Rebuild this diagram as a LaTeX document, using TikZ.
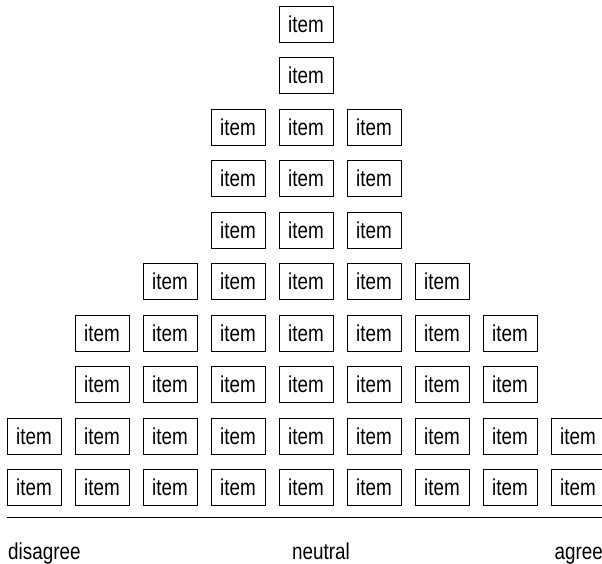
\documentclass[tikz,border=0pt]{standalone}
\usepackage{fontspec}
\setmainfont[FakeStretch=0.82]{Liberation Sans}
\begin{document}
\begin{tikzpicture}[x=1pt,y=-1pt,
  itembox/.style={draw,line width=0.9pt,minimum width=54pt,minimum height=36pt,inner sep=0pt,font=\fontsize{23}{26}\selectfont},
  lbl/.style={inner sep=0pt,font=\fontsize{23}{26}\selectfont}]
\useasboundingbox (0,0) rectangle (602,563);
\foreach \r/\a/\b in {0/4/4,1/4/4,2/3/5,3/3/5,4/3/5,5/2/6,6/1/7,7/1/7,8/0/8,9/0/8}{
  \foreach \c in {\a,...,\b}{
    \node[itembox] (n\r-\c) at ({34+68*\c},{24+51.5*\r}) {item};
  }
}
\coordinate (la) at (7,517);
\coordinate (lb) at (605,517);
\draw[line width=0.9pt] (la) -- (lb);
\node[lbl,anchor=base west] (dis) at (8,559) {disagree};
\node[lbl,anchor=base] (neu) at (321,559) {neutral};
\node[lbl,anchor=base east] (agr) at (603,559) {agree};
\end{tikzpicture}
\end{document}
